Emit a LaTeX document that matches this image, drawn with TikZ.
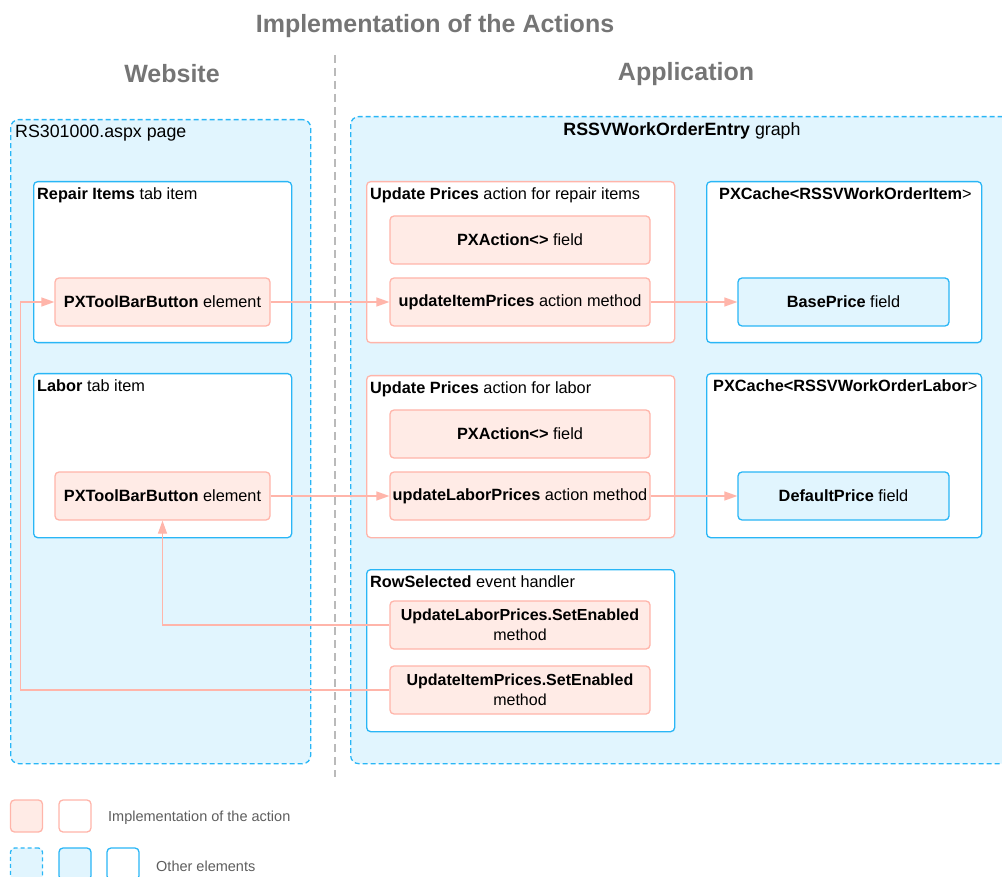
\documentclass[tikz,border=0pt]{standalone}
\usepackage{fontspec}
\setmainfont{Liberation Sans}
\usetikzlibrary{arrows.meta,
                positioning}
\definecolor{actfill}{HTML}{FFEBE6}
\definecolor{actline}{HTML}{FFB5AA}
\definecolor{othfill}{HTML}{E1F5FE}
\definecolor{othline}{HTML}{29B6F6}
\definecolor{headgray}{HTML}{757575}

\begin{document}
\begin{tikzpicture}[x=1pt, y=-1pt,
                every node/.style={inner sep=0pt, font=\fontsize{16.3}{19}\selectfont},
                area/.style={draw=othline, fill=othfill, line width=1.3pt, dash pattern=on 5pt off 3pt, rounded corners=8pt, anchor=north west},
                holder/.style={draw=othline, fill=white, line width=1.3pt, rounded corners=4pt, anchor=north west},
                actholder/.style={draw=actline, fill=white, line width=1.3pt, rounded corners=4pt, anchor=north west},
                actbox/.style={draw=actline, fill=actfill, line width=1.3pt, rounded corners=4pt, minimum width=260pt, minimum height=48pt, align=center},
                othbox/.style={draw=othline, fill=othfill, line width=1.3pt, rounded corners=4pt, minimum width=211pt, minimum height=48pt, align=center},
                caption/.style={anchor=north west},
                conn/.style={draw=actline, line width=1.3pt, -{Triangle[length=13pt, width=9pt]}}]
                \useasboundingbox (0,0) rectangle (1002,877);
                \clip (0,0) rectangle (1002,877);
                % headings
                \node[font=\fontsize{25}{30}\bfseries, text=headgray] (title) at (435,26) {Implementation of the Actions};
                \node[font=\fontsize{25}{30}\bfseries, text=headgray] (webhead) at (172,74) {Website};
                \node[font=\fontsize{25}{30}\bfseries, text=headgray] (apphead) at (686,74) {Application};
                \draw[draw=headgray!50, line width=2pt, dash pattern=on 8pt off 5pt] (335,55) -- (335,777);
                % website side
                \node[area, minimum width=300pt, minimum height=644pt] (web) at (10,119) {};
                \node[caption, font=\fontsize{17.8}{21}\selectfont] at (15,125) {RS301000.aspx page};
                \node[holder, minimum width=258pt, minimum height=161pt] (repair) at (33,181) {};
                \node[caption] at (37,187) {\textbf{Repair Items} tab item};
                \node[actbox, minimum width=215pt] (btnitem) at (162.5,302) {\textbf{PXToolBarButton} element};
                \node[holder, minimum width=258pt, minimum height=164pt] (labor) at (33,373) {};
                \node[caption] at (37,379) {\textbf{Labor} tab item};
                \node[actbox, minimum width=215pt] (btnlabor) at (162.5,496) {\textbf{PXToolBarButton} element};
                % application side
                \node[area, minimum width=660pt, minimum height=647pt] (app) at (350,116) {};
                \node[font=\fontsize{17.8}{21}\selectfont] at (682,131) {\textbf{RSSVWorkOrderEntry} graph};
                \node[actholder, minimum width=308pt, minimum height=161pt] (actitem) at (366,181) {};
                \node[caption] at (370,187) {\textbf{Update Prices} action for repair items};
                \node[actbox] (fielditem) at (520,240) {\textbf{PXAction<>} field};
                \node[actbox] (upditem) at (520,302) {\textbf{updateItemPrices} action method};
                \node[actholder, minimum width=308pt, minimum height=162pt] (actlabor) at (366,375) {};
                \node[caption] at (370,381) {\textbf{Update Prices} action for labor};
                \node[actbox] (fieldlabor) at (520,434) {\textbf{PXAction<>} field};
                \node[actbox] (updlabor) at (520,496) {\textbf{updateLaborPrices} action method};
                \node[holder, minimum width=275pt, minimum height=161pt] (cacheitem) at (706,181) {};
                \node[caption] at (719,187) {\textbf{PXCache<RSSVWorkOrderItem}>};
                \node[othbox] (baseprice) at (843.5,302) {\textbf{BasePrice} field};
                \node[holder, minimum width=275pt, minimum height=164pt] (cachelabor) at (706,373) {};
                \node[caption] at (713,379) {\textbf{PXCache<RSSVWorkOrderLabor}>};
                \node[othbox] (defprice) at (843.5,496) {\textbf{DefaultPrice} field};
                \node[holder, minimum width=308pt, minimum height=162pt] (rowsel) at (366,569) {};
                \node[caption] at (370,575) {\textbf{RowSelected} event handler};
                \node[actbox, font=\fontsize{16}{20}\selectfont] (setlabor) at (520,625) {\textbf{UpdateLaborPrices.SetEnabled}\\method};
                \node[actbox, font=\fontsize{16}{20}\selectfont] (setitem) at (520,690) {\textbf{UpdateItemPrices.SetEnabled}\\method};
                % connectors
                \draw[conn] (btnitem) -- (upditem);
                \draw[conn] (upditem) -- (baseprice);
                \draw[conn] (btnlabor) -- (updlabor);
                \draw[conn] (updlabor) -- (defprice);
                \draw[conn] (setlabor.west) -| (btnlabor.south);
                \draw[conn] (setitem.west) -| ([xshift=-34pt]btnitem.west) -- (btnitem.west);
                % legend
                \node[draw=actline, fill=actfill, line width=1.3pt, rounded corners=4pt, minimum size=32pt] (legact) at (26.5,816) {};
                \node[draw=actline, fill=white, line width=1.3pt, rounded corners=4pt, minimum size=32pt] (legacth) at (75,816) {};
                \node[anchor=west, font=\fontsize{14.5}{17}\selectfont, text=headgray!80!black] at (108,818) {Implementation of the action};
                \node[draw=othline, fill=othfill, line width=1.3pt, dash pattern=on 4pt off 3pt, rounded corners=4pt, minimum size=32pt] (legarea) at (26.5,864) {};
                \node[draw=othline, fill=othfill, line width=1.3pt, rounded corners=4pt, minimum size=32pt] (legoth) at (75,864) {};
                \node[draw=othline, fill=white, line width=1.3pt, rounded corners=4pt, minimum size=32pt] (legothh) at (123,864) {};
                \node[anchor=west, font=\fontsize{14.5}{17}\selectfont, text=headgray!80!black] at (156,866) {Other elements};
            \end{tikzpicture}
\end{document}
